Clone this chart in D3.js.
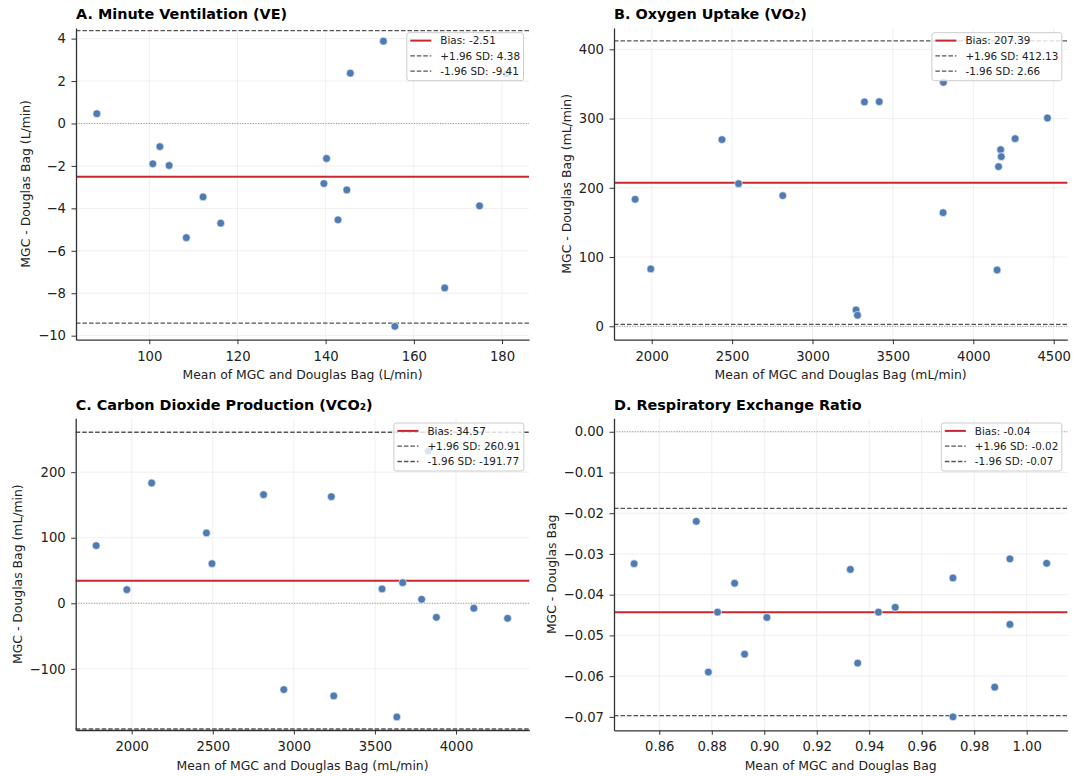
<!DOCTYPE html>
<html><head><meta charset="utf-8">
<script src="https://cdn.jsdelivr.net/npm/d3@7"></script>
<style>
body{margin:0;background:#fff;}
svg{display:block;font-family:"DejaVu Sans",sans-serif;}
</style></head><body>
<svg id="chart" width="1075" height="776"></svg>
<script>
// ---------------- data ----------------
const veMean  = [88.1, 100.8, 102.4, 104.5, 108.4, 112.2, 116.2, 139.6, 140.2, 142.8, 144.8, 145.6, 153.1, 155.7, 167.0, 174.9, 181.0];
const veDiff  = [0.46, -1.90, -1.09, -1.98, -5.38, -3.46, -4.70, -2.83, -1.65, -4.54, -3.13, 2.37, 3.88, -9.56, -7.75, -3.88, 2.35];
const veLimits = [-2.51, 4.38, -9.41];          // bias, +1.96 SD, -1.96 SD
const veXTicks = [100, 120, 140, 160, 180];
const veYTicks = [-10, -8, -6, -4, -2, 0, 2, 4];

const vo2Mean = [1897, 1994, 2437, 2540, 2815, 3271, 3280, 3323, 3415, 3814, 3812, 4148, 4157, 4170, 4174, 4260, 4461];
const vo2Diff = [183.4, 82.8, 269.6, 206.0, 188.7, 23.6, 15.9, 324.0, 324.4, 352.3, 164.1, 81.3, 230.6, 255.1, 245.0, 271.0, 300.8];
const vo2Limits = [207.39, 412.13, 2.66];
const vo2XTicks = [2000, 2500, 3000, 3500, 4000, 4500];
const vo2YTicks = [0, 100, 200, 300, 400];

const vco2Mean = [1781, 1970, 2123, 2461, 2495, 2813, 2938, 3231, 3246, 3544, 3635, 3671, 3788, 3828, 3879, 4110, 4318];
const vco2Diff = [88.0, 20.8, 183.5, 107.3, 60.5, 165.7, -131.7, 162.7, -141.3, 21.9, -173.4, 31.5, 6.1, 232.3, -21.4, -7.6, -22.9];
const vco2Limits = [34.57, 260.91, -191.77];
const vco2XTicks = [2000, 2500, 3000, 3500, 4000];
const vco2YTicks = [-100, 0, 100, 200];

const rerMean = [0.8504, 0.8741, 0.8787, 0.8822, 0.8887, 0.8925, 0.9010, 0.9328, 0.9356, 0.9435, 0.9499, 0.9719, 0.9719, 0.9878, 0.9936, 0.9936, 1.0076];
const rerDiff = [-0.0324, -0.0220, -0.0590, -0.0443, -0.0372, -0.0546, -0.0456, -0.0338, -0.0568, -0.0443, -0.0431, -0.0359, -0.0700, -0.0627, -0.0312, -0.0473, -0.0323];
const rerLimits = [-0.0443, -0.0188, -0.0697];
const rerXTicks = [0.86, 0.88, 0.90, 0.92, 0.94, 0.96, 0.98, 1.00];
const rerYTicks = [-0.07, -0.06, -0.05, -0.04, -0.03, -0.02, -0.01, 0.00];

const titles = ["A. Minute Ventilation (VE)", "B. Oxygen Uptake (VO\u2082)", "C. Carbon Dioxide Production (VCO\u2082)", "D. Respiratory Exchange Ratio"];
const xLabels = ["Mean of MGC and Douglas Bag (L/min)", "Mean of MGC and Douglas Bag (mL/min)", "Mean of MGC and Douglas Bag (mL/min)", "Mean of MGC and Douglas Bag"];
const yLabels = ["MGC - Douglas Bag (L/min)", "MGC - Douglas Bag (mL/min)", "MGC - Douglas Bag (mL/min)", "MGC - Douglas Bag"];

// ---------------- layout ----------------
const panels = [
  {mean: veMean, diff: veDiff, lim: veLimits, xt: veXTicks, yt: veYTicks, xf: d3.format("d"), yf: d3.format("d"),
   left: 76, right: 529, top: 28, bottom: 339.7, xd: [83.38, 186.12], yd: [-10.19, 4.5]},
  {mean: vo2Mean, diff: vo2Diff, lim: vo2Limits, xt: vo2XTicks, yt: vo2YTicks, xf: d3.format("d"), yf: d3.format("d"),
   left: 614, right: 1067.3, top: 28, bottom: 339.7, xd: [1765.5, 4584.6], yd: [-19.4, 430.8]},
  {mean: vco2Mean, diff: vco2Diff, lim: vco2Limits, xt: vco2XTicks, yt: vco2YTicks, xf: d3.format("d"), yf: d3.format("d"),
   left: 75.7, right: 529.3, top: 418.3, bottom: 730, xd: [1654.6, 4452], yd: [-193.3, 282.2]},
  {mean: rerMean, diff: rerDiff, lim: rerLimits, xt: rerXTicks, yt: rerYTicks, xf: d3.format(".2f"), yf: d3.format(".2f"),
   left: 614, right: 1067.3, top: 418.3, bottom: 730.3, xd: [0.84274, 1.01547], yd: [-0.0733, 0.0033]}
];

const svg = d3.select("#chart");
const FONT = '"DejaVu Sans", sans-serif';
const GRID = "#ebebeb", SPINE = "#333", POINT = "#4f7bb3", RED = "#c8272d", DASH = "#555";

panels.forEach((p, i) => {
  const g = svg.append("g");
  const x = d3.scaleLinear().domain(p.xd).range([p.left, p.right]);
  const y = d3.scaleLinear().domain(p.yd).range([p.bottom, p.top]);

  // grid
  g.append("g").selectAll("line").data(p.xt).join("line")
    .attr("x1", d => x(d)).attr("x2", d => x(d)).attr("y1", p.top).attr("y2", p.bottom)
    .attr("stroke", GRID).attr("stroke-width", 0.8);
  g.append("g").selectAll("line").data(p.yt).join("line")
    .attr("y1", d => y(d)).attr("y2", d => y(d)).attr("x1", p.left).attr("x2", p.right)
    .attr("stroke", GRID).attr("stroke-width", 0.8);

  // zero reference line
  g.append("line").attr("x1", p.left).attr("x2", p.right).attr("y1", y(0)).attr("y2", y(0))
    .attr("stroke", "#888").attr("stroke-width", 0.9).attr("stroke-dasharray", "1,1.6");

  // limits of agreement
  [p.lim[1], p.lim[2]].forEach(v => {
    g.append("line").attr("x1", p.left).attr("x2", p.right).attr("y1", y(v)).attr("y2", y(v))
      .attr("stroke", DASH).attr("stroke-width", 1.3).attr("stroke-dasharray", "4.5,2");
  });
  // bias
  g.append("line").attr("x1", p.left).attr("x2", p.right).attr("y1", y(p.lim[0])).attr("y2", y(p.lim[0]))
    .attr("stroke", RED).attr("stroke-width", 2);

  // axes
  const ax = g.append("g").attr("transform", `translate(0,${p.bottom})`)
    .call(d3.axisBottom(x).tickValues(p.xt).tickFormat(p.xf).tickSize(4.5).tickPadding(7).tickSizeOuter(0));
  const ay = g.append("g").attr("transform", `translate(${p.left},0)`)
    .call(d3.axisLeft(y).tickValues(p.yt).tickFormat(p.yf).tickSize(4.5).tickPadding(5.5).tickSizeOuter(0));
  [ax, ay].forEach(a => {
    a.attr("font-family", FONT).attr("font-size", 13.2);
    a.select(".domain").attr("stroke", SPINE).attr("stroke-width", 1.3);
    a.selectAll(".tick line").attr("stroke", SPINE).attr("stroke-width", 1);
    a.selectAll(".tick text").attr("fill", "#222");
  });

  // points
  const pts = p.mean.map((m, k) => ({m, d: p.diff[k]}));
  g.append("g").selectAll("circle").data(pts).join("circle")
    .attr("cx", d => x(d.m)).attr("cy", d => y(d.d)).attr("r", 3.9)
    .attr("fill", POINT).attr("stroke", "#fff").attr("stroke-width", 0.6);

  // title
  g.append("text").attr("x", p.left).attr("y", p.top - 8.6)
    .attr("font-family", FONT).attr("font-weight", "bold").attr("font-size", 14.4).attr("fill", "#000")
    .text(titles[i]);
  // x label
  g.append("text").attr("x", (p.left + p.right) / 2).attr("y", p.bottom + 39.6)
    .attr("text-anchor", "middle").attr("font-family", FONT).attr("font-size", 12.4).attr("fill", "#222")
    .text(xLabels[i]);
  // y label (placed left of tick labels)
  let minX = Infinity;
  ay.selectAll(".tick text").each(function(){ const b = this.getBBox(); minX = Math.min(minX, p.left + b.x); });
  const yl = minX - 4.8 - 2.9;
  g.append("text").attr("transform", `translate(${yl},${(p.top + p.bottom) / 2}) rotate(-90)`)
    .attr("text-anchor", "middle").attr("font-family", FONT).attr("font-size", 12.4).attr("fill", "#222")
    .text(yLabels[i]);

  // legend
  const labels = [`Bias: ${p.lim[0].toFixed(2)}`, `+1.96 SD: ${p.lim[1].toFixed(2)}`, `-1.96 SD: ${p.lim[2].toFixed(2)}`];
  const lg = g.append("g");
  const box = lg.append("rect");
  const texts = labels.map((t, k) => lg.append("text").attr("font-family", FONT).attr("font-size", 10.4).attr("fill", "#222")
    .attr("dy", "0.35em").text(t));
  const tw = d3.max(texts, t => t.node().getComputedTextLength());
  const bw = 4 + 21 + 8.5 + tw + 3.5;
  const bx = p.right - 5.5 - bw, by = p.top + 4.7;
  box.attr("x", bx).attr("y", by).attr("width", bw).attr("height", 48).attr("rx", 2.5)
    .attr("fill", "#fff").attr("fill-opacity", 0.8).attr("stroke", "#ccc").attr("stroke-width", 1);
  const rows = [12.6, 27.9, 43.2];
  texts.forEach((t, k) => t.attr("x", bx + 33.5).attr("y", p.top + rows[k]));
  rows.forEach((r, k) => {
    lg.append("line").attr("x1", bx + 3.5).attr("x2", bx + 24.5).attr("y1", p.top + r).attr("y2", p.top + r)
      .attr("stroke", k === 0 ? RED : DASH).attr("stroke-width", k === 0 ? 2 : 1.3)
      .attr("stroke-dasharray", k === 0 ? null : "4.5,2");
  });
});
</script>
</body></html>
